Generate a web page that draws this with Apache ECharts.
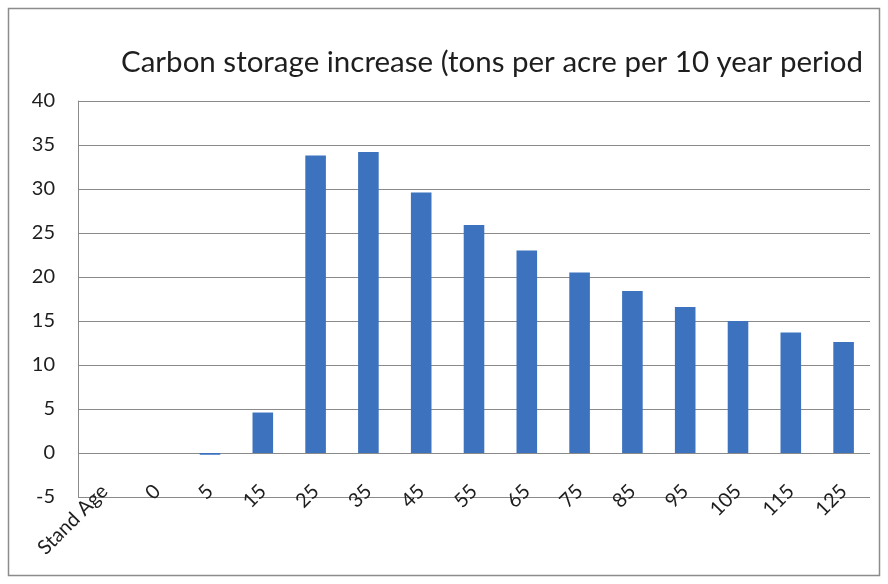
<!DOCTYPE html>
<html>
<head>
<meta charset="utf-8">
<script src="https://cdn.jsdelivr.net/npm/echarts@6/dist/echarts.min.js"></script>
<style>
  html, body { margin: 0; padding: 0; background: #fff; }
  #chart { width: 888px; height: 584px; }
</style>
</head>
<body>
<div id="chart"></div>
<script>
// Stand age classes (first slot is the axis caption itself)
const standAges = ['Stand Age', '0', '5', '15', '25', '35', '45', '55', '65', '75', '85', '95', '105', '115', '125'];
// Carbon storage increase, tons per acre per 10-year period
const carbonIncrease = [null, 0, -0.2, 4.6, 33.8, 34.2, 29.6, 25.9, 23.0, 20.5, 18.4, 16.6, 15.0, 13.7, 12.6];
const titleText = 'Carbon storage increase (tons per acre per 10 year period';

const FONT = 'Lato, "Open Sans", sans-serif';
const chart = echarts.init(document.getElementById('chart'), null, { renderer: 'canvas' });

chart.setOption({
  animation: false,
  backgroundColor: '#ffffff',
  title: {
    text: titleText,
    left: 116,
    top: 42,
    textStyle: { fontFamily: FONT, fontSize: 29.5, fontWeight: 'normal', color: '#1e1e1e' }
  },
  grid: { left: 78, right: 18, top: 101, bottom: 87 },
  xAxis: {
    type: 'category',
    data: standAges,
    offset: -13,
    axisLine: { show: false },
    axisTick: { show: false },
    axisLabel: {
      rotate: 45,
      margin: 4,
      interval: 0,
      fontFamily: FONT,
      fontSize: 20,
      color: '#1e1e1e'
    }
  },
  yAxis: {
    type: 'value',
    min: -5,
    max: 40,
    interval: 5,
    axisLine: { show: true, lineStyle: { color: '#8a8a8a', width: 1 } },
    axisTick: { show: false },
    splitLine: { show: true, lineStyle: { color: '#8a8a8a', width: 1 } },
    axisLabel: { margin: 23, fontFamily: FONT, fontSize: 20, color: '#1e1e1e' }
  },
  series: [{
    type: 'bar',
    data: carbonIncrease,
    barWidth: '39%',
    itemStyle: { color: '#3d72be' }
  }],
  graphic: [{
    type: 'rect',
    shape: { x: 8.5, y: 8.5, width: 871, height: 567 },
    style: { fill: 'none', stroke: '#8c8c8c', lineWidth: 1.5 },
    silent: true
  }]
});
</script>
</body>
</html>
